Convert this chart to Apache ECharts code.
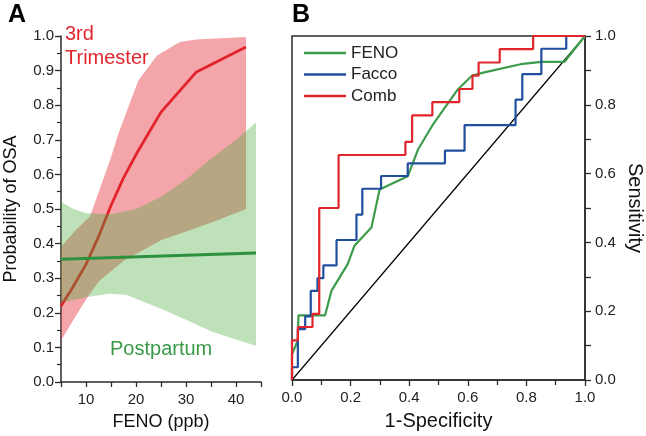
<!DOCTYPE html>
<html>
<head>
<meta charset="utf-8">
<script src="https://cdn.jsdelivr.net/npm/echarts@6/dist/echarts.min.js"></script>
<style>
html,body{margin:0;padding:0;background:#fff;}
#chart{width:646px;height:436px;}
</style>
</head>
<body>
<div id="chart"></div>
<script>
// ---------- Panel A data ----------
const redLineX = [5, 7, 10, 12.5, 15, 17.5, 20.5, 25, 32, 42];
const redLineY = [0.22, 0.265, 0.34, 0.42, 0.51, 0.59, 0.67, 0.78, 0.895, 0.968];
const redUpperX = [5, 8, 10.8, 12.8, 14.8, 16.5, 18.2, 20.5, 24.2, 28.8, 32, 42];
const redUpperY = [0.39, 0.44, 0.478, 0.56, 0.641, 0.718, 0.785, 0.872, 0.944, 0.983, 0.99, 0.997];
const redLowerX = [5, 7.5, 10.3, 12.5, 15, 17.5, 20, 25, 30, 35, 42];
const redLowerY = [0.12, 0.18, 0.245, 0.29, 0.32, 0.35, 0.37, 0.41, 0.435, 0.46, 0.50];
const greenLineX = [5, 44];
const greenLineY = [0.355, 0.373];
const greenUpperX = [5, 7.5, 10, 15, 20, 25, 30, 35, 40, 44];
const greenUpperY = [0.52, 0.50, 0.488, 0.485, 0.50, 0.535, 0.585, 0.645, 0.70, 0.75];
const greenLowerX = [5, 10, 14.5, 18, 21, 25, 30, 35, 40, 44];
const greenLowerY = [0.23, 0.245, 0.255, 0.252, 0.235, 0.212, 0.18, 0.147, 0.123, 0.105];

// ---------- Panel B data (ROC) ----------
const fenoX = [0, 0, 0.02, 0.022, 0.113, 0.135, 0.19, 0.213, 0.271, 0.299, 0.395, 0.43, 0.479, 0.564, 0.615, 0.66, 0.78, 0.851, 0.93, 1];
const fenoY = [0, 0.075, 0.115, 0.188, 0.188, 0.26, 0.337, 0.39, 0.443, 0.554, 0.592, 0.67, 0.74, 0.843, 0.885, 0.895, 0.918, 0.925, 0.925, 1];
const faccoX = [0, 0, 0.02, 0.02, 0.045, 0.045, 0.064, 0.064, 0.087, 0.087, 0.107, 0.107, 0.152, 0.152, 0.22, 0.22, 0.24, 0.24, 0.304, 0.304, 0.395, 0.395, 0.522, 0.522, 0.589, 0.589, 0.763, 0.763, 0.786, 0.786, 0.851, 0.851, 0.936, 0.936, 1];
const faccoY = [0, 0.037, 0.037, 0.148, 0.148, 0.185, 0.185, 0.259, 0.259, 0.296, 0.296, 0.333, 0.333, 0.407, 0.407, 0.481, 0.481, 0.556, 0.556, 0.593, 0.593, 0.63, 0.63, 0.667, 0.667, 0.741, 0.741, 0.815, 0.815, 0.889, 0.889, 0.963, 0.963, 1, 1];
const combX = [0, 0, 0.02, 0.02, 0.07, 0.07, 0.093, 0.093, 0.159, 0.159, 0.387, 0.387, 0.41, 0.41, 0.479, 0.479, 0.571, 0.571, 0.616, 0.616, 0.637, 0.637, 0.709, 0.709, 0.823, 0.823, 1];
const combY = [0, 0.115, 0.115, 0.154, 0.154, 0.192, 0.192, 0.5, 0.5, 0.654, 0.654, 0.692, 0.692, 0.769, 0.769, 0.808, 0.808, 0.846, 0.846, 0.885, 0.885, 0.923, 0.923, 0.962, 0.962, 1, 1];
const diagX = [0, 1];
const diagY = [0, 1];

const zip = (xs, ys) => xs.map((x, i) => [x, ys[i]]);
const FONT = '"Liberation Sans", Arial, sans-serif';
const AX = '#2b2b2b';

function bandRender(upX, upY, loX, loY, color) {
  return function (params, api) {
    const pts = [];
    for (let i = 0; i < upX.length; i++) pts.push(api.coord([upX[i], upY[i]]));
    for (let i = loX.length - 1; i >= 0; i--) pts.push(api.coord([loX[i], loY[i]]));
    return { type: 'polygon', shape: { points: pts }, style: { fill: color } };
  };
}

const chart = echarts.init(document.getElementById('chart'), null, { renderer: 'canvas' });

const baseAxis = {
  axisLine: { show: true, onZero: false, lineStyle: { color: AX, width: 1.5 } },
  axisTick: { show: true, inside: false, length: 6, lineStyle: { color: AX, width: 1.3 } },
  splitLine: { show: false },
  axisLabel: { color: '#222', fontSize: 15, fontFamily: FONT },
  nameTextStyle: { color: '#111', fontFamily: FONT }
};

const option = {
  animation: false,
  backgroundColor: '#fff',
  textStyle: { fontFamily: FONT },
  grid: [
    { left: 61, right: 385, top: 36, bottom: 54, show: false },
    { left: 292, right: 59, top: 36, bottom: 54, show: true, borderColor: AX, borderWidth: 1.5, backgroundColor: 'transparent' }
  ],
  xAxis: [
    Object.assign({}, baseAxis, {
      gridIndex: 0, type: 'value', min: 5, max: 45, interval: 5,
      name: 'FENO (ppb)', nameLocation: 'middle', nameGap: 31,
      nameTextStyle: { color: '#111', fontFamily: FONT, fontSize: 18 },
      axisTick: { show: true, length: 5, lineStyle: { color: AX, width: 1.3 } },
      axisLabel: { color: '#222', fontSize: 15, fontFamily: FONT, margin: 10,
        formatter: v => (v % 10 === 0 ? String(v) : '') }
    }),
    Object.assign({}, baseAxis, {
      gridIndex: 1, type: 'value', min: 0, max: 1, interval: 0.2,
      name: '1-Specificity', nameLocation: 'middle', nameGap: 31,
      nameTextStyle: { color: '#111', fontFamily: FONT, fontSize: 20 },
      minorTick: { show: true, splitNumber: 2, length: 5, lineStyle: { color: AX, width: 1.3 } },
      axisLabel: { color: '#222', fontSize: 15, fontFamily: FONT, margin: 10, formatter: v => v.toFixed(1) }
    })
  ],
  yAxis: [
    Object.assign({}, baseAxis, {
      gridIndex: 0, type: 'value', min: 0, max: 1, interval: 0.1,
      name: 'Probability of OSA', nameLocation: 'middle', nameGap: 41, nameRotate: 90,
      nameTextStyle: { color: '#111', fontFamily: FONT, fontSize: 18 },
      minorTick: { show: true, splitNumber: 2, length: 4, lineStyle: { color: AX, width: 1.2 } },
      axisLabel: { color: '#222', fontSize: 15, fontFamily: FONT, margin: 7, formatter: v => v.toFixed(1) }
    }),
    Object.assign({}, baseAxis, {
      gridIndex: 1, type: 'value', min: 0, max: 1, interval: 0.2, position: 'right',
      name: 'Sensitivity', nameLocation: 'middle', nameGap: 40, nameRotate: -90,
      nameTextStyle: { color: '#111', fontFamily: FONT, fontSize: 20 },
      minorTick: { show: true, splitNumber: 2, length: 6, lineStyle: { color: AX, width: 1.3 } },
      axisLabel: { color: '#222', fontSize: 15, fontFamily: FONT, margin: 10, formatter: v => v.toFixed(1) }
    })
  ],
  legend: {
    data: ['FENO', 'Facco', 'Comb'],
    orient: 'vertical', left: 299, top: 39,
    icon: 'rect',
    itemWidth: 42, itemHeight: 2.5, itemGap: 3.5,
    textStyle: { color: '#222', fontSize: 17, fontFamily: FONT, lineHeight: 18 }
  },
  graphic: [
    { type: 'text', left: 8, top: 3, style: { text: 'A', font: 'bold 25px ' + FONT, fill: '#000' } },
    { type: 'text', left: 292, top: 3, style: { text: 'B', font: 'bold 25px ' + FONT, fill: '#000' } },
    { type: 'text', left: 65, top: 22, style: { text: '3rd\nTrimester', font: '20px ' + FONT, fill: '#e3262e', lineHeight: 24 } },
    { type: 'text', left: 110, top: 339, style: { text: 'Postpartum', font: '20px ' + FONT, fill: '#3a9a48' } }
  ],
  series: [
    { type: 'custom', name: 'redBand', xAxisIndex: 0, yAxisIndex: 0, z: 2, silent: true,
      data: [[5, 0.5]], encode: { x: 0, y: 1 },
      renderItem: bandRender(redUpperX, redUpperY, redLowerX, redLowerY, 'rgba(228,55,66,0.45)') },
    { type: 'line', name: 'redLine', xAxisIndex: 0, yAxisIndex: 0, z: 3, symbol: 'none',
      data: zip(redLineX, redLineY), lineStyle: { color: '#e3232b', width: 2.8 } },
    { type: 'custom', name: 'greenBand', xAxisIndex: 0, yAxisIndex: 0, z: 4, silent: true,
      data: [[5, 0.5]], encode: { x: 0, y: 1 },
      renderItem: bandRender(greenUpperX, greenUpperY, greenLowerX, greenLowerY, 'rgba(69,169,55,0.35)') },
    { type: 'line', name: 'greenLine', xAxisIndex: 0, yAxisIndex: 0, z: 5, symbol: 'none',
      data: zip(greenLineX, greenLineY), lineStyle: { color: '#2e9140', width: 3 } },

    { type: 'line', name: 'diag', xAxisIndex: 1, yAxisIndex: 1, z: 2, symbol: 'none',
      data: zip(diagX, diagY), lineStyle: { color: '#000', width: 1.2 } },
    { type: 'line', name: 'FENO', xAxisIndex: 1, yAxisIndex: 1, z: 3, symbol: 'none', color: '#3c9c4a',
      data: zip(fenoX, fenoY), lineStyle: { color: '#3c9c4a', width: 2.2 } },
    { type: 'line', name: 'Facco', xAxisIndex: 1, yAxisIndex: 1, z: 4, symbol: 'none', color: '#214f9e',
      data: zip(faccoX, faccoY), lineStyle: { color: '#214f9e', width: 2.2 } },
    { type: 'line', name: 'Comb', xAxisIndex: 1, yAxisIndex: 1, z: 5, symbol: 'none', color: '#e0262c',
      data: zip(combX, combY), lineStyle: { color: '#e0262c', width: 2.2 } }
  ]
};
chart.setOption(option);
</script>
</body>
</html>
